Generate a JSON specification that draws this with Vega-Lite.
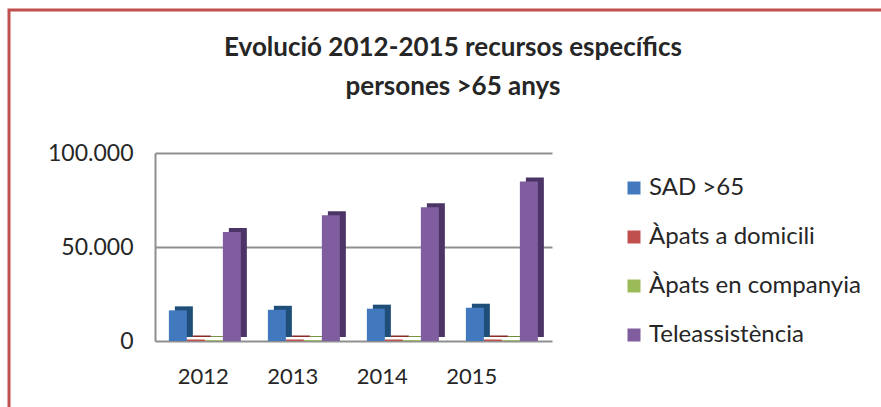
{
  "$schema": "https://vega.github.io/schema/vega-lite/v6.json",
  "width": 872,
  "height": 397,
  "autosize": {"type": "none"},
  "padding": {"left": 9, "top": 10, "right": 0, "bottom": 0},
  "background": "white",
  "title": {
    "text": ["Evolució 2012-2015 recursos específics", "persones >65 anys"],
    "font": "Lato",
    "fontSize": 26,
    "fontWeight": "bold",
    "color": "#262626",
    "anchor": "middle",
    "frame": "group",
    "orient": "top",
    "offset": 0,
    "dx": 8,
    "dy": 90,
    "lineHeight": 39
  },
  "config": {
    "locale": {"number": {"decimal": ",", "thousands": ".", "grouping": [3], "currency": ["", " €"]}},
    "view": {"stroke": "#c0504d", "strokeWidth": 3, "strokeDash": [872, 1269, 397]},
    "font": "Lato"
  },
  "data": {
    "values": [
      {"year": "2012", "serie": "SAD >65", "value": 16300},
      {"year": "2012", "serie": "Àpats a domicili", "value": 800},
      {"year": "2012", "serie": "Àpats en companyia", "value": 500},
      {"year": "2012", "serie": "Teleassistència", "value": 58000},
      {"year": "2013", "serie": "SAD >65", "value": 16600},
      {"year": "2013", "serie": "Àpats a domicili", "value": 800},
      {"year": "2013", "serie": "Àpats en companyia", "value": 500},
      {"year": "2013", "serie": "Teleassistència", "value": 66900},
      {"year": "2014", "serie": "SAD >65", "value": 17200},
      {"year": "2014", "serie": "Àpats a domicili", "value": 800},
      {"year": "2014", "serie": "Àpats en companyia", "value": 500},
      {"year": "2014", "serie": "Teleassistència", "value": 71100},
      {"year": "2015", "serie": "SAD >65", "value": 17700},
      {"year": "2015", "serie": "Àpats a domicili", "value": 800},
      {"year": "2015", "serie": "Àpats en companyia", "value": 500},
      {"year": "2015", "serie": "Teleassistència", "value": 84900}
    ]
  },
  "layer": [
    {
      "mark": {"type": "text", "text": ""},
      "encoding": {
        "x": {
          "field": "year",
          "type": "nominal",
          "scale": {"range": [149, 507], "paddingInner": 0, "paddingOuter": 0},
          "axis": {
            "orient": "bottom",
            "offset": -67,
            "domain": false,
            "ticks": false,
            "grid": false,
            "labelPadding": 26,
            "labelFontSize": 22,
            "labelColor": "#262626",
            "labelAngle": 0,
            "title": null
          }
        }
      }
    },
    {
      "layer": [
        {
          "mark": {"type": "bar", "yOffset": -4},
          "encoding": {
            "x": {
              "field": "year",
              "type": "nominal",
              "scale": {"range": [146, 543], "paddingInner": 0.27, "paddingOuter": 0.14},
              "axis": null
            },
            "xOffset": {
              "field": "serie",
              "type": "nominal",
              "sort": ["SAD >65", "Àpats a domicili", "Àpats en companyia", "Teleassistència"],
              "scale": {"range": [6, 78]}
            },
            "y": {
              "field": "value",
              "type": "quantitative",
              "scale": {"domain": [0, 100000], "range": [331, 143], "nice": false},
              "axis": {
                "orient": "left",
                "offset": -146,
                "values": [0, 50000, 100000],
                "format": ",d",
                "domain": true,
                "domainColor": "#8f8f8f",
                "domainWidth": 2,
                "grid": true,
                "gridColor": "#8f8f8f",
                "gridWidth": 2,
                "gridOpacity": 1,
                "ticks": false,
                "labelPadding": 22,
                "labelFontSize": 23,
                "labelColor": "#262626",
                "title": null
              }
            },
            "color": {
              "field": "serie",
              "type": "nominal",
              "scale": {
                "domain": ["SAD >65", "Àpats a domicili", "Àpats en companyia", "Teleassistència"],
                "range": ["#1f4e79", "#8b2a27", "#6e8c35", "#4c3566"]
              },
              "legend": null
            }
          }
        },
        {
          "mark": {"type": "bar"},
          "encoding": {
            "x": {"field": "year", "type": "nominal"},
            "xOffset": {
              "field": "serie",
              "type": "nominal",
              "sort": ["SAD >65", "Àpats a domicili", "Àpats en companyia", "Teleassistència"],
              "scale": {"range": [0, 72]}
            },
            "y": {"field": "value", "type": "quantitative"},
            "color": {
              "field": "serie",
              "type": "nominal",
              "scale": {
                "domain": ["SAD >65", "Àpats a domicili", "Àpats en companyia", "Teleassistència"],
                "range": ["#4279be", "#c0504d", "#9bbb59", "#7f5d9f"]
              },
              "legend": {
                "orient": "none",
                "legendX": 613,
                "legendY": 166,
                "padding": 0,
                "symbolType": "square",
                "symbolSize": 169,
                "symbolStrokeWidth": 0,
                "labelFontSize": 24,
                "labelColor": "#262626",
                "labelOffset": 3,
                "labelLimit": 300,
                "rowPadding": 25,
                "title": null
              }
            }
          }
        }
      ],
      "resolve": {"scale": {"color": "independent", "xOffset": "independent"}}
    }
  ],
  "resolve": {
    "scale": {"x": "independent", "y": "independent"},
    "axis": {"x": "independent", "y": "independent"}
  }
}
